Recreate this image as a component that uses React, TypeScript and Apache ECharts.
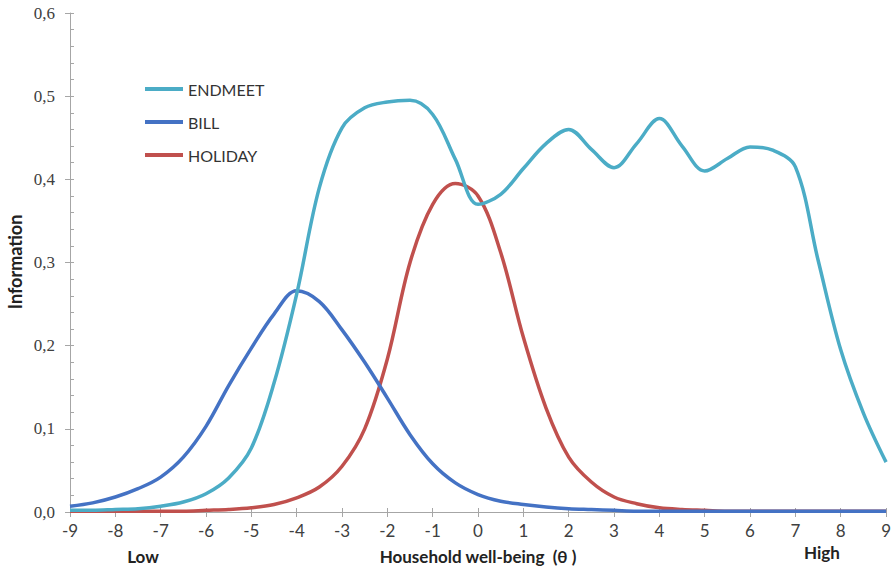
import React, { useEffect, useRef } from "react";
import * as echarts from "echarts";

const thetaValues = [-9, -8.5, -8, -7.5, -7, -6.5, -6, -5.5, -5, -4.5, -4, -3.5, -3, -2.5, -2, -1.5, -1, -0.5, 0, 0.5, 1, 1.5, 2, 2.5, 3, 3.5, 4, 4.5, 5, 5.5, 6, 6.5, 7, 7.5, 8, 8.5, 9];

const endmeetValues = [0.002, 0.002, 0.003, 0.004, 0.007, 0.012, 0.022, 0.041, 0.077, 0.155, 0.262, 0.39, 0.462, 0.486, 0.493, 0.495, 0.478, 0.424, 0.37, 0.382, 0.413, 0.443, 0.46, 0.436, 0.414, 0.443, 0.473, 0.44, 0.41, 0.425, 0.439, 0.435, 0.415, 0.303, 0.195, 0.119, 0.06];

const billValues = [0.007, 0.011, 0.018, 0.028, 0.042, 0.066, 0.103, 0.152, 0.197, 0.238, 0.266, 0.253, 0.219, 0.18, 0.137, 0.093, 0.058, 0.035, 0.021, 0.013, 0.009, 0.006, 0.004, 0.003, 0.002, 0.001, 0.001, 0.001, 0.001, 0.001, 0.001, 0.001, 0.001, 0.001, 0.001, 0.001, 0.001];

const holidayValues = [0.001, 0.001, 0.001, 0.001, 0.001, 0.001, 0.002, 0.003, 0.005, 0.009, 0.017, 0.03, 0.055, 0.1, 0.184, 0.3, 0.37, 0.395, 0.38, 0.312, 0.21, 0.125, 0.066, 0.036, 0.018, 0.01, 0.005, 0.003, 0.002, 0.001, 0.001, 0.001, 0.001, 0.001, 0.001, 0.001, 0.001];

const seriesNames = ["ENDMEET", "BILL", "HOLIDAY"];
const seriesColors = ["#4bacc6", "#4472c4", "#c0504d"];

const xTitle = "Household well-being  (θ )";
const yTitle = "Information";
const lowLabel = "Low";
const highLabel = "High";

export default function App() {
  const ref = useRef<HTMLDivElement>(null);
  useEffect(() => {
    if (!ref.current) return;
    const chart = echarts.init(ref.current, undefined, { renderer: "svg" });
    const pair = (vals: number[]) => thetaValues.map((x, i) => [x, vals[i]]);
    const allVals = [endmeetValues, billValues, holidayValues];
    chart.setOption({
      animation: false,
      backgroundColor: "#ffffff",
      grid: { left: 70, right: 6, top: 13, bottom: 61, containLabel: false },
      legend: {
        orient: "vertical",
        left: 140,
        top: 75,
        icon: "rect",
        itemWidth: 38,
        itemHeight: 4,
        itemGap: 15,
        data: seriesNames,
        textStyle: { fontFamily: "Lato", fontSize: 16, color: "#333333", lineHeight: 18 },
      },
      xAxis: [
        {
          type: "value",
          min: -9,
          max: 9,
          interval: 1,
          axisLine: { onZero: false, lineStyle: { color: "#a6a6a6", width: 1 } },
          axisTick: { show: true, length: 5, lineStyle: { color: "#a6a6a6" } },
          axisLabel: { fontFamily: "Lato", fontSize: 17, color: "#404040", margin: 10 },
          splitLine: { show: false },
        },
        {
          type: "value",
          min: -9,
          max: 9,
          interval: 1,
          position: "bottom",
          axisLine: { show: false, onZero: false },
          axisTick: { show: true, inside: true, length: 4, lineStyle: { color: "#a6a6a6" } },
          axisLabel: { show: false },
          splitLine: { show: false },
        },
      ],
      yAxis: [
        {
          type: "value",
          min: 0,
          max: 0.6,
          interval: 0.1,
          axisLine: { show: true, onZero: false, lineStyle: { color: "#a6a6a6", width: 1 } },
          axisTick: { show: true, length: 5, lineStyle: { color: "#a6a6a6" } },
          axisLabel: {
            fontFamily: "Times New Roman",
            fontSize: 17,
            color: "#404040",
            margin: 15,
            formatter: (v: number) => v.toFixed(1).replace(".", ","),
          },
          splitLine: { show: false },
        },
        {
          type: "value",
          min: 0,
          max: 0.6,
          interval: 0.02,
          position: "left",
          axisLine: { show: false, onZero: false },
          axisTick: { show: true, inside: true, length: 4, lineStyle: { color: "#a6a6a6" } },
          axisLabel: { show: false },
          splitLine: { show: false },
        },
      ],
      series: seriesNames.map((name, i) => ({
        name,
        type: "line",
        data: pair(allVals[i]),
        smooth: 0.35,
        showSymbol: false,
        symbol: "none",
        lineStyle: { width: 3.5, color: seriesColors[i] },
        itemStyle: { color: seriesColors[i] },
        z: 3 - i,
      })),
      graphic: [
        {
          type: "text",
          x: 15,
          y: 262,
          rotation: Math.PI / 2,
          style: {
            text: yTitle,
            font: "bold 18px Lato",
            fill: "#222222",
            textAlign: "center",
            textVerticalAlign: "middle",
          },
        },
        {
          type: "text",
          x: 143,
          y: 556,
          style: { text: lowLabel, font: "bold 17px Lato", fill: "#222222", textAlign: "center", textVerticalAlign: "middle" },
        },
        {
          type: "text",
          x: 478,
          y: 556,
          style: { text: xTitle, font: "bold 17px Lato", fill: "#222222", textAlign: "center", textVerticalAlign: "middle" },
        },
        {
          type: "text",
          x: 822,
          y: 552,
          style: { text: highLabel, font: "bold 17px Lato", fill: "#222222", textAlign: "center", textVerticalAlign: "middle" },
        },
      ],
    });
    return () => chart.dispose();
  }, []);
  return <div ref={ref} style={{ width: 894, height: 573, position: "absolute", left: 0, top: 0 }} />;
}
